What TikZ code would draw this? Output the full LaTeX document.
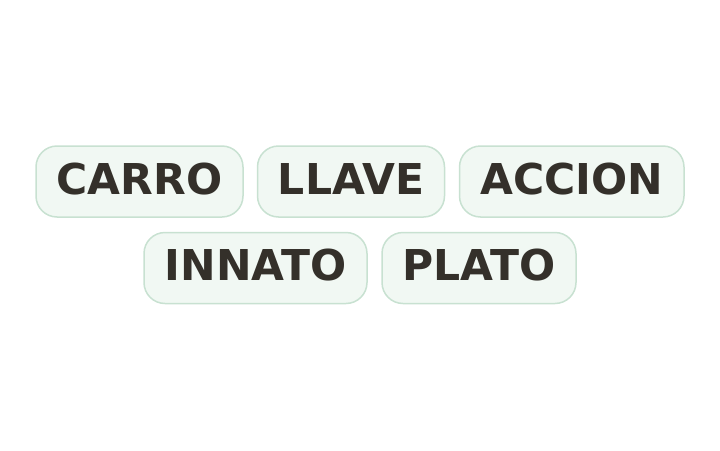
\documentclass[tikz,border=0pt]{standalone}
\usepackage{fontspec}
\setmainfont{DejaVu Sans}
\definecolor{boxfill}{HTML}{F1F8F3}
\definecolor{boxline}{HTML}{C8E1D1}
\definecolor{txt}{HTML}{34302A}
\begin{document}
\begin{tikzpicture}[x=1pt,y=-1pt,
  word/.style={draw=boxline, line width=1.5pt, fill=boxfill, rounded corners=21pt,
    text=txt, font=\fontsize{42.5}{48}\selectfont\bfseries, inner sep=0pt,
    text height=30pt, text depth=5pt, minimum height=71pt}]
\useasboundingbox (0,0) rectangle (720,450);
\node[word, minimum width=207pt] (carro) at (139.5,181.5) {CARRO};
\node[word, minimum width=187pt] (llave) at (351,181.5) {LLAVE};
\node[word, minimum width=224.5pt] (accion) at (571.75,181.5) {ACCION};
\node[word, minimum width=223pt] (innato) at (255.5,268) {INNATO};
\node[word, minimum width=194pt] (plato) at (479,268) {PLATO};
\end{tikzpicture}
\end{document}
